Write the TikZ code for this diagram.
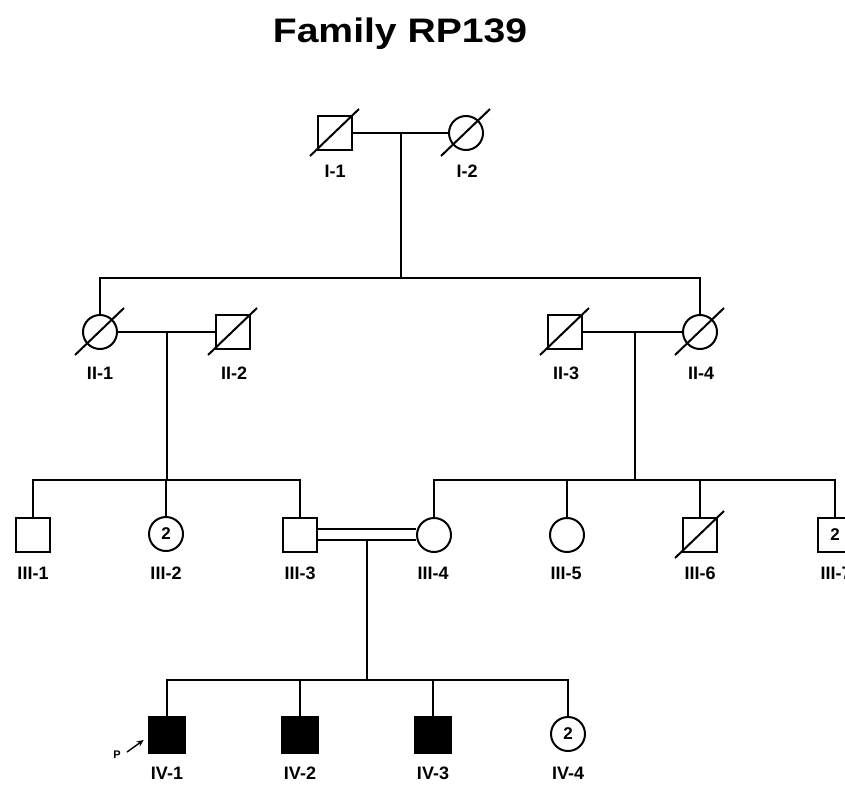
\documentclass[tikz,border=0pt]{standalone}
\usepackage{fontspec}
\setmainfont{Liberation Sans}
\usetikzlibrary{arrows.meta}
\begin{document}
\begin{tikzpicture}[x=1pt,y=-1pt,
  male/.style={draw, rectangle, minimum size=34pt, inner sep=0pt, line width=2.6pt, font=\bfseries\fontsize{17}{17}\selectfont},
  female/.style={draw, circle, minimum size=34pt, inner sep=0pt, line width=2pt, font=\bfseries\fontsize{17}{17}\selectfont},
  aff/.style={fill=black},
  conn/.style={line width=1.8pt},
  lbl/.style={font=\bfseries\fontsize{18}{18}\selectfont, inner sep=0pt},
  dec/.style={line width=2pt}]
\clip (0,0) rectangle (845,784);
\useasboundingbox (0,0) rectangle (845,784);
\fill[white] (0,0) rectangle (845,784);
% title
\node[font=\bfseries\fontsize{34}{34}\selectfont, xscale=1.15, inner sep=0pt] (title) at (400,34) {Family RP139};
% generation I
\node[male] (I1) at (335,133) {};
\node[female] (I2) at (466,133) {};
\node[lbl] (lI1) at (335,171) {I-1};
\node[lbl] (lI2) at (467,171) {I-2};
% generation II
\node[female] (II1) at (100,332) {};
\node[male] (II2) at (233,332) {};
\node[male] (II3) at (565,332) {};
\node[female] (II4) at (700,332) {};
\node[lbl] (lII1) at (100,373) {II-1};
\node[lbl] (lII2) at (234,373) {II-2};
\node[lbl] (lII3) at (566,373) {II-3};
\node[lbl] (lII4) at (701,373) {II-4};
% generation III
\node[male] (III1) at (33,535) {};
\node[female] (III2) at (166,534) {2};
\node[male] (III3) at (300,535) {};
\node[female] (III4) at (434,535) {};
\node[female] (III5) at (567,535) {};
\node[male] (III6) at (700,535) {};
\node[male] (III7) at (835,535) {2};
\node[lbl] (lIII1) at (33,573) {III-1};
\node[lbl] (lIII2) at (166,573) {III-2};
\node[lbl] (lIII3) at (300,573) {III-3};
\node[lbl] (lIII4) at (433,573) {III-4};
\node[lbl] (lIII5) at (566,573) {III-5};
\node[lbl] (lIII6) at (700,573) {III-6};
\node[lbl] (lIII7) at (836,573) {III-7};
% generation IV
\node[male,aff,minimum size=36pt] (IV1) at (167,735) {};
\node[male,aff,minimum size=36pt] (IV2) at (300,735) {};
\node[male,aff,minimum size=36pt] (IV3) at (433,735) {};
\node[female] (IV4) at (568,734) {2};
\node[lbl] (lIV1) at (167,773) {IV-1};
\node[lbl] (lIV2) at (300,773) {IV-2};
\node[lbl] (lIV3) at (433,773) {IV-3};
\node[lbl] (lIV4) at (568,773) {IV-4};
% proband
\node[font=\bfseries\fontsize{11}{11}\selectfont, inner sep=0pt] (P) at (117,755) {P};
\coordinate (parr) at (127,752);
\draw[line width=1.4pt, -{Stealth[length=7pt,width=6pt]}] (parr) -- ([shift={(-4,5)}]IV1.south west |- IV1.west);
% deceased slashes
\foreach \n in {I1,I2,II1,II2,II3,II4,III6}
  \draw[dec] ([shift={(-25,23)}]\n.center) -- ([shift={(24,-24)}]\n.center);
% coordinates
\coordinate (m1) at (401,133);
\coordinate (s1) at (401,278);
\coordinate (m2) at (167,332);
\coordinate (s2) at (167,480);
\coordinate (m3) at (635,332);
\coordinate (s3) at (635,480);
\coordinate (m4) at (367,540);
\coordinate (s4) at (367,680);
% marriages
\draw[conn] (I1.east) -- (I2.west);
\draw[conn] (II1.east) -- (II2.west);
\draw[conn] (II3.east) -- (II4.west);
\draw[conn] ([shift={(0,-6)}]III3.east) -- ([shift={(0,-6)}]III4.west);
\draw[conn] ([shift={(0,5)}]III3.east) -- ([shift={(0,5)}]III4.west);
% descents
\draw[conn] (m1) -- (s1);
\draw[conn] (m2) -- (s2);
\draw[conn] (m3) -- (s3);
\draw[conn] (m4) -- (s4);
% sibships
\draw[conn] (II1.north) -- (II1.north |- s1) -- (II4.north |- s1) -- (II4.north);
\draw[conn] (III1.north) -- (III1.north |- s2) -- (III3.north |- s2) -- (III3.north);
\draw[conn] (III2.north) -- (III2.north |- s2);
\draw[conn] (III4.north) -- (III4.north |- s3) -- (III7.north |- s3) -- (III7.north);
\draw[conn] (III5.north) -- (III5.north |- s3);
\draw[conn] (III6.north) -- (III6.north |- s3);
\draw[conn] (IV1.north) -- (IV1.north |- s4) -- (IV4.north |- s4) -- (IV4.north);
\draw[conn] (IV2.north) -- (IV2.north |- s4);
\draw[conn] (IV3.north) -- (IV3.north |- s4);
\end{tikzpicture}
\end{document}
